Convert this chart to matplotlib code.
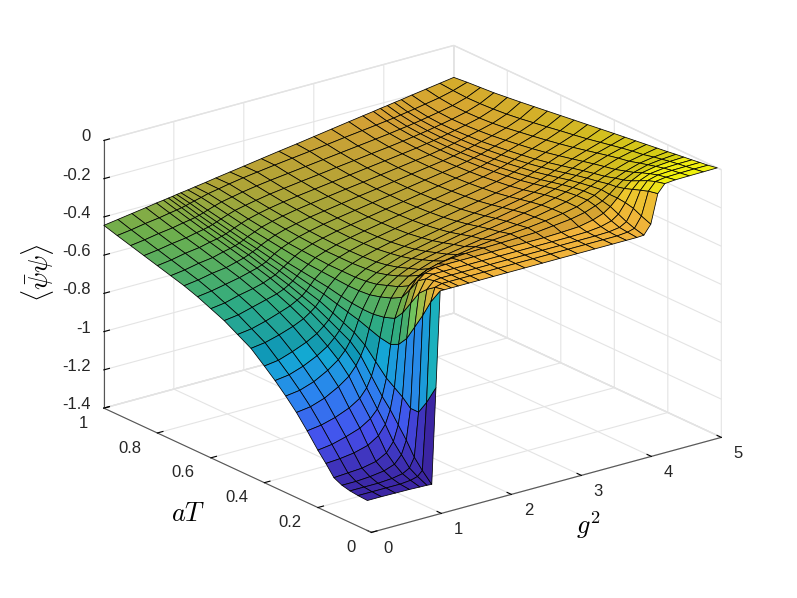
import numpy as np
import matplotlib
matplotlib.use("Agg")
import matplotlib.pyplot as plt
from matplotlib.colors import LinearSegmentedColormap, Normalize
from mpl_toolkits.mplot3d import proj3d

plt.rcParams["font.family"] = ["Liberation Sans", "DejaVu Sans"]
plt.rcParams["mathtext.fontset"] = "cm"
plt.rcParams["axes.unicode_minus"] = False

g_vals = [0, .2, .4, .6, .75, .85, .92, .98, 1.04, 1.1, 1.2, 1.3, 1.45, 1.6, 1.8, 2,
          2.25, 2.5, 2.75, 3, 3.25, 3.5, 3.7, 3.85, 3.95, 4.05, 4.15, 4.25, 4.4, 4.6, 4.8, 5]
at_vals = [.015, .05, .08, .11, .14, .17, .2, .24, .28, .32, .36, .4, .45, .5, .55, .6,
           .65, .7, .75, .8, .85, .9, .95, 1]

# one row per aT value
z_rows = [
    [-1.243,-1.243,-1.244,-1.245,-1.247,-1.248,-1.25,-.75,-.25,-.25,-.25,-.25,-.25,-.25,-.25,-.25,-.25,-.25,-.25,-.25,-.25,-.25,-.25,-.25,-.248,-.2,-.05,-.008,-.003,-.002,-.001,0],
    [-1.24,-1.24,-1.24,-1.24,-1.235,-1.225,-1.2,-.85,-.33,-.26,-.25,-.25,-.25,-.25,-.25,-.25,-.25,-.25,-.25,-.25,-.25,-.25,-.25,-.245,-.235,-.18,-.06,-.02,-.012,-.01,-.009,-.009],
    [-1.235,-1.235,-1.235,-1.23,-1.22,-1.2,-1.15,-.92,-.42,-.29,-.255,-.25,-.25,-.25,-.25,-.25,-.25,-.25,-.25,-.25,-.25,-.25,-.248,-.24,-.22,-.16,-.075,-.035,-.02,-.016,-.015,-.014],
    [-1.225,-1.225,-1.22,-1.21,-1.19,-1.15,-1.08,-.92,-.5,-.33,-.265,-.25,-.25,-.25,-.25,-.25,-.25,-.25,-.25,-.25,-.25,-.248,-.24,-.225,-.2,-.15,-.09,-.055,-.033,-.024,-.021,-.02],
    [-1.205,-1.2,-1.195,-1.18,-1.15,-1.1,-1.02,-.88,-.58,-.4,-.295,-.265,-.25,-.248,-.248,-.248,-.248,-.248,-.248,-.248,-.245,-.24,-.225,-.205,-.18,-.145,-.105,-.075,-.048,-.034,-.028,-.025],
    [-1.15,-1.145,-1.135,-1.115,-1.08,-1.03,-.96,-.85,-.63,-.47,-.36,-.31,-.28,-.265,-.255,-.25,-.247,-.245,-.243,-.24,-.23,-.22,-.205,-.185,-.17,-.145,-.115,-.09,-.065,-.045,-.036,-.03],
    [-1.10,-1.09,-1.07,-1.045,-1.01,-.97,-.91,-.82,-.65,-.52,-.42,-.37,-.33,-.31,-.29,-.275,-.26,-.25,-.242,-.235,-.224,-.21,-.195,-.175,-.16,-.14,-.12,-.1,-.078,-.056,-.044,-.036],
    [-1.025,-1.015,-.995,-.965,-.93,-.885,-.83,-.76,-.64,-.54,-.45,-.4,-.36,-.34,-.315,-.3,-.285,-.27,-.257,-.245,-.23,-.212,-.195,-.177,-.163,-.148,-.132,-.116,-.095,-.072,-.057,-.043],
    [-.955,-.945,-.92,-.88,-.84,-.795,-.75,-.7,-.62,-.55,-.47,-.42,-.385,-.36,-.335,-.318,-.3,-.282,-.268,-.253,-.235,-.218,-.2,-.184,-.171,-.157,-.142,-.127,-.106,-.082,-.065,-.05],
    [-.895,-.885,-.86,-.82,-.78,-.74,-.7,-.66,-.6,-.55,-.485,-.44,-.405,-.38,-.355,-.337,-.317,-.298,-.281,-.264,-.246,-.228,-.21,-.194,-.182,-.168,-.154,-.139,-.118,-.094,-.075,-.057],
    [-.84,-.83,-.805,-.77,-.735,-.7,-.67,-.635,-.585,-.545,-.49,-.45,-.42,-.395,-.37,-.352,-.332,-.313,-.295,-.277,-.258,-.24,-.223,-.207,-.195,-.181,-.167,-.152,-.131,-.107,-.086,-.064],
    [-.79,-.78,-.755,-.725,-.695,-.665,-.64,-.61,-.57,-.535,-.49,-.455,-.425,-.405,-.38,-.363,-.343,-.324,-.306,-.288,-.27,-.252,-.236,-.22,-.208,-.194,-.18,-.165,-.144,-.12,-.097,-.071],
    [-.73,-.72,-.7,-.675,-.65,-.625,-.605,-.58,-.55,-.52,-.485,-.455,-.43,-.41,-.39,-.373,-.354,-.335,-.318,-.3,-.283,-.265,-.249,-.234,-.222,-.209,-.195,-.181,-.16,-.136,-.111,-.08],
    [-.69,-.68,-.66,-.635,-.615,-.595,-.58,-.56,-.535,-.51,-.48,-.455,-.43,-.412,-.393,-.378,-.36,-.342,-.325,-.307,-.29,-.273,-.258,-.244,-.233,-.22,-.208,-.195,-.175,-.15,-.123,-.089],
    [-.65,-.64,-.62,-.6,-.585,-.57,-.555,-.54,-.52,-.5,-.475,-.45,-.43,-.413,-.395,-.38,-.363,-.346,-.33,-.313,-.296,-.28,-.266,-.253,-.243,-.231,-.219,-.206,-.188,-.163,-.134,-.098],
    [-.62,-.61,-.59,-.575,-.56,-.545,-.535,-.52,-.505,-.49,-.465,-.445,-.425,-.41,-.393,-.38,-.364,-.348,-.333,-.317,-.301,-.285,-.272,-.26,-.25,-.24,-.228,-.216,-.199,-.175,-.146,-.107],
    [-.59,-.58,-.565,-.55,-.535,-.525,-.515,-.505,-.49,-.475,-.455,-.44,-.42,-.406,-.39,-.377,-.362,-.347,-.333,-.318,-.303,-.288,-.276,-.265,-.256,-.247,-.236,-.225,-.209,-.186,-.157,-.116],
    [-.565,-.555,-.54,-.53,-.515,-.505,-.495,-.485,-.475,-.462,-.445,-.43,-.413,-.4,-.385,-.373,-.359,-.345,-.332,-.318,-.304,-.29,-.279,-.269,-.261,-.252,-.243,-.233,-.218,-.197,-.168,-.125],
    [-.545,-.535,-.52,-.51,-.495,-.487,-.48,-.472,-.462,-.45,-.435,-.42,-.405,-.392,-.378,-.367,-.354,-.341,-.329,-.316,-.303,-.29,-.28,-.27,-.263,-.255,-.246,-.237,-.224,-.205,-.177,-.134],
    [-.525,-.515,-.5,-.49,-.477,-.47,-.463,-.456,-.447,-.437,-.423,-.41,-.396,-.384,-.371,-.36,-.348,-.336,-.324,-.312,-.3,-.288,-.278,-.269,-.263,-.256,-.248,-.24,-.228,-.21,-.183,-.142],
    [-.505,-.495,-.482,-.472,-.46,-.453,-.447,-.44,-.432,-.423,-.41,-.398,-.386,-.375,-.362,-.352,-.34,-.329,-.317,-.306,-.295,-.284,-.274,-.266,-.26,-.254,-.247,-.24,-.229,-.212,-.187,-.15],
    [-.485,-.475,-.462,-.452,-.441,-.435,-.43,-.424,-.417,-.409,-.397,-.386,-.375,-.364,-.352,-.342,-.331,-.32,-.309,-.298,-.287,-.276,-.267,-.259,-.254,-.248,-.242,-.235,-.225,-.21,-.188,-.155],
    [-.465,-.455,-.442,-.432,-.422,-.416,-.411,-.406,-.4,-.394,-.385,-.375,-.365,-.354,-.342,-.332,-.32,-.309,-.298,-.287,-.275,-.264,-.255,-.248,-.243,-.237,-.231,-.225,-.215,-.202,-.184,-.16],
    [-.444,-.433,-.422,-.411,-.402,-.397,-.393,-.39,-.386,-.383,-.378,-.372,-.364,-.355,-.344,-.333,-.319,-.305,-.292,-.278,-.264,-.25,-.239,-.231,-.225,-.22,-.214,-.209,-.2,-.189,-.178,-.167],
]

g_ticks = [0, 1, 2, 3, 4, 5]
g_labels = ["0", "1", "2", "3", "4", "5"]
at_ticks = [0, .2, .4, .6, .8, 1]
at_labels = ["0", "0.2", "0.4", "0.6", "0.8", "1"]
z_ticks = [-1.4, -1.2, -1, -.8, -.6, -.4, -.2, 0]
z_labels = ["-1.4", "-1.2", "-1", "-0.8", "-0.6", "-0.4", "-0.2", "0"]

parula = LinearSegmentedColormap.from_list("parula", [
    (0.0, (.2422, .1504, .6603)),
    (.11, (.2810, .3228, .9579)),
    (.24, (.1786, .5289, .9682)),
    (.365, (.0689, .6948, .8394)),
    (.49, (.2161, .7843, .5923)),
    (.62, (.5044, .7993, .3480)),
    (.71, (.8000, .7500, .2500)),
    (.80, (.9800, .7300, .2400)),
    (.90, (.9600, .8300, .1700)),
    (1.0, (.9763, .9831, .0538)),
])

G, A = np.meshgrid(g_vals, at_vals)
Z = np.array(z_rows)
colors = parula(Normalize(Z.min(), Z.max())(Z))
# the original mesh is much denser, its lines darken the faces except on the cliffs
dark = np.full(Z.shape, .86)
dark[Z < -.8] = .97
dark[:4] = .96
colors[..., :3] *= dark[..., None]

fig = plt.figure(figsize=(7.97, 5.98), dpi=100)
ax = fig.add_axes([6 / 797, 2 / 598, 1, 1], projection="3d", proj_type="ortho")
ax.view_init(elev=20.8, azim=-127.4)
ax.set_box_aspect((1, 1, .65), zoom=1.113)

surf = ax.plot_surface(G, A, Z, facecolors=colors, rstride=1, cstride=1, shade=False,
                       edgecolor="black", linewidth=.55)
surf.set_clip_on(False)

ax.set_xlim(0, 5)
ax.set_ylim(0, 1)
ax.set_zlim(-1.4, 0)
ax.set_xticks(g_ticks)
ax.set_yticks(at_ticks)
ax.set_zticks(z_ticks)

for axis in (ax.xaxis, ax.yaxis, ax.zaxis):
    axis.set_pane_color((1, 1, 1, 1))
    axis.pane.set_edgecolor("#e0e0e0")
    axis.line.set_color("#555555")
    axis.line.set_linewidth(.8)
    axis._axinfo["grid"]["color"] = "#e4e4e4"
    axis._axinfo["grid"]["linewidth"] = .8
    axis._axinfo["tick"]["color"] = "#555555"
    axis._axinfo["tick"]["inward_factor"] = 0
    axis._axinfo["tick"]["outward_factor"] = .2
    # tick labels are placed by hand below, the default offsets are off from the original
    axis.label.set_visible(False)
    axis.offsetText.set_visible(False)
    for tick in axis.get_major_ticks():
        tick.label1.set_visible(False)
        tick.label2.set_visible(False)


def label_at(x, y, z, text, ha):
    """Put a tick label at a 3D position, as plain 2D text."""
    px, py, _ = proj3d.proj_transform(x, y, z, ax.get_proj())
    ax.text2D(px, py, text, transform=ax.transData, ha=ha, va="center",
              fontsize=12, color="#262626")


for tick, label in zip(g_ticks, g_labels):
    label_at(tick, -.0635, -1.443, label, "center")
for tick, label in zip(at_ticks, at_labels):
    label_at(-.229, tick, -1.456, label, "right")
for tick, label in zip(z_ticks, z_labels):
    label_at(-.19, 1, tick + .037, label, "right")

fig.text(588 / 797, 1 - 525 / 598, "$g^2$", fontsize=19, ha="center", va="center")
fig.text(188 / 797, 1 - 514 / 598, "$aT$", fontsize=19, ha="center", va="center")
fig.text(38 / 797, 1 - 273 / 598, r"$\langle\bar{\psi}\psi\rangle$", fontsize=19,
         rotation=90, ha="center", va="center")

fig.savefig("out.png", dpi=100)
